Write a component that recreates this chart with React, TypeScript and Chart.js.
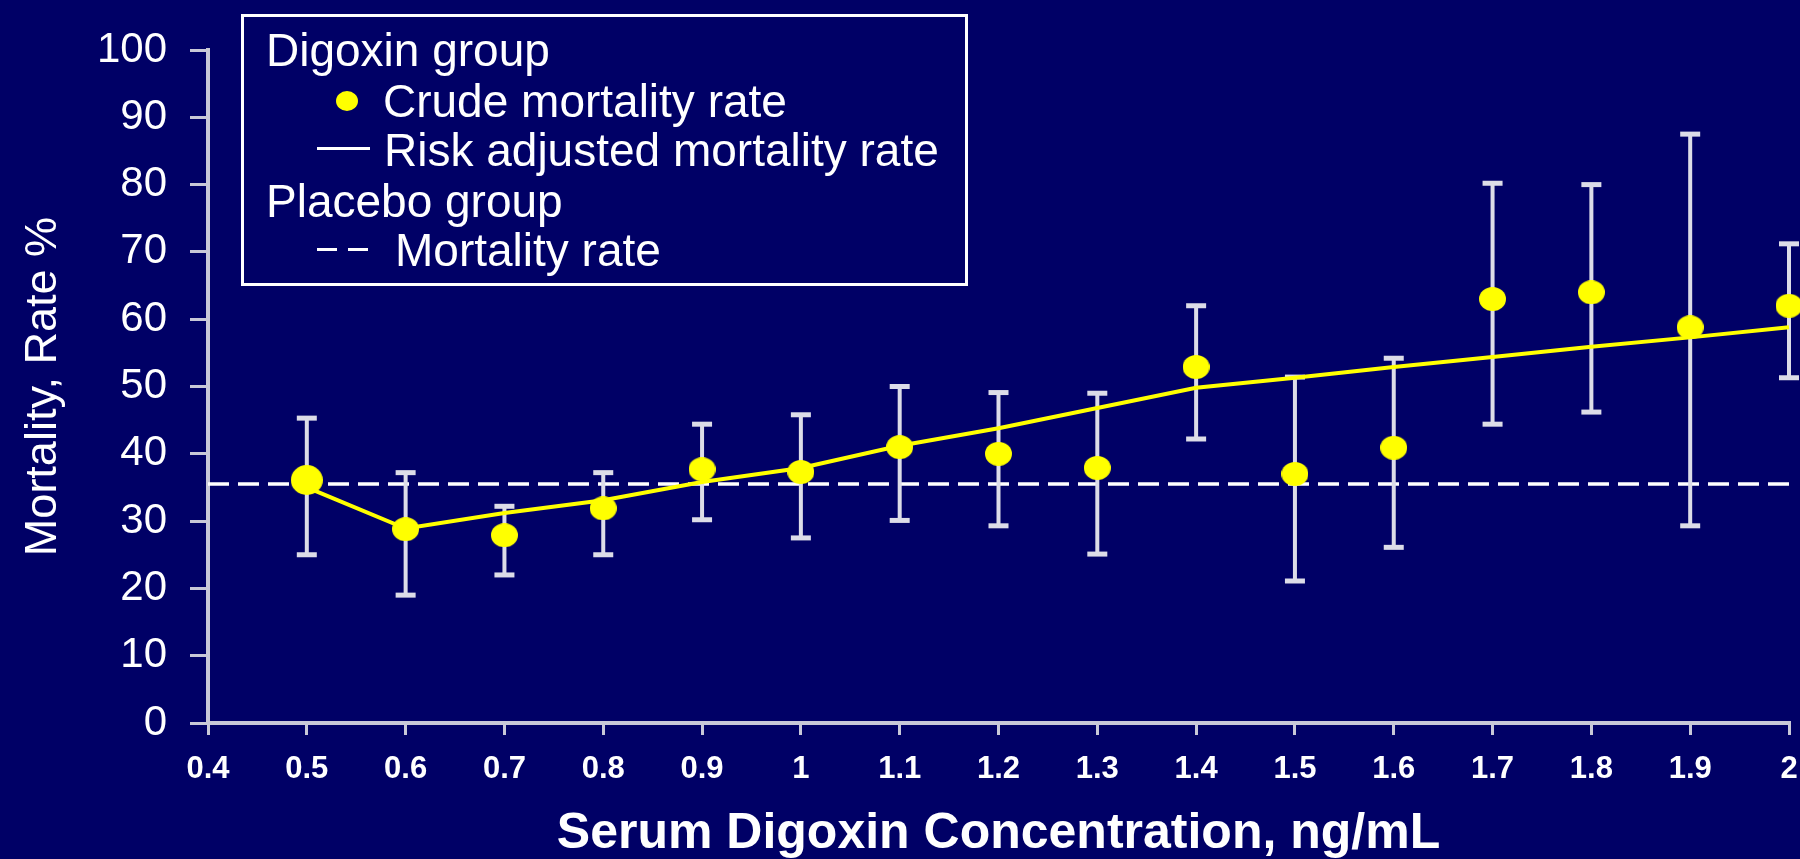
import React, { useEffect, useRef } from "react";
import { Chart, registerables } from "chart.js";

Chart.register(...registerables);

// ---- Data ----
const concentrations = [0.5, 0.6, 0.7, 0.8, 0.9, 1.0, 1.1, 1.2, 1.3, 1.4, 1.5, 1.6, 1.7, 1.8, 1.9, 2.0];
const crudeRates = [36.1, 28.8, 27.9, 31.9, 37.7, 37.3, 41.0, 40.0, 37.9, 52.9, 37.0, 40.9, 63.0, 64.0, 58.8, 62.0];
const ciLower = [25.0, 19.0, 22.0, 25.0, 30.2, 27.5, 30.1, 29.3, 25.1, 42.2, 21.1, 26.1, 44.4, 46.2, 29.3, 51.3];
const ciUpper = [45.3, 37.2, 32.2, 37.2, 44.4, 45.8, 50.0, 49.1, 49.0, 62.0, 51.4, 54.2, 80.2, 80.0, 87.5, 71.2];
const riskAdjusted = [35.0, 28.9, 31.2, 33.1, 35.8, 37.9, 41.2, 43.8, 46.8, 49.8, 51.3, 52.9, 54.4, 55.9, 57.3, 58.8];
const placeboRate = 35.5;
const xMin = 0.4;
const xMax = 2.0;
const xStep = 0.1;
const yMin = 0;
const yMax = 100;
const yStep = 10;

const legendRows = [
  { text: "Digoxin group", marker: "none" },
  { text: "Crude mortality rate", marker: "dot" },
  { text: "Risk adjusted mortality rate", marker: "line" },
  { text: "Placebo group", marker: "none" },
  { text: "Mortality rate", marker: "dash" },
];

const BG = "#000066";
const AXIS = "#c8c8d8";
const BAR = "#dcdce8";
const YELLOW = "#ffff00";
const FONT = '"Liberation Sans", Arial, sans-serif';

function makeEllipse(w: number, h: number, color: string) {
  const c = document.createElement("canvas");
  c.width = w;
  c.height = h;
  const g = c.getContext("2d")!;
  g.fillStyle = color;
  g.beginPath();
  g.ellipse(w / 2, h / 2, w / 2, h / 2, 0, 0, Math.PI * 2);
  g.fill();
  return c;
}

export default function App() {
  const canvasRef = useRef<HTMLCanvasElement | null>(null);

  useEffect(() => {
    const canvas = canvasRef.current;
    if (!canvas) return;
    const dot = makeEllipse(27, 24, YELLOW);
    const bigDot = makeEllipse(32, 30, YELLOW);

    const errorData: { x: number; y: number | null }[] = [];
    concentrations.forEach((x, i) => {
      errorData.push({ x, y: ciLower[i] });
      errorData.push({ x, y: ciUpper[i] });
      errorData.push({ x, y: null });
    });

    const chart = new Chart(canvas, {
      type: "scatter",
      data: {
        datasets: [
          {
            label: "Crude mortality rate",
            data: concentrations.map((x, i) => ({ x, y: crudeRates[i] })),
            showLine: false,
            clip: false,
            pointStyle: (ctx: any) => (ctx.dataIndex === 0 ? bigDot : dot),
            backgroundColor: YELLOW,
            borderColor: YELLOW,
          },
          {
            label: "Risk adjusted mortality rate",
            data: concentrations.map((x, i) => ({ x, y: riskAdjusted[i] })),
            showLine: true,
            clip: false,
            borderColor: YELLOW,
            borderWidth: 4,
            pointRadius: 0,
            fill: false,
          },
          {
            label: "CI",
            data: errorData as any,
            showLine: true,
            spanGaps: false,
            clip: false,
            borderColor: BAR,
            borderWidth: 4,
            pointStyle: "line",
            pointRadius: 10,
            pointHoverRadius: 10,
            pointBorderColor: BAR,
            pointBorderWidth: 5,
            fill: false,
          },
          {
            label: "Placebo mortality rate",
            data: [
              { x: xMin, y: placeboRate },
              { x: xMax, y: placeboRate },
            ],
            showLine: true,
            borderColor: "#ffffff",
            borderWidth: 3.5,
            borderDash: [21, 9],
            pointRadius: 0,
            fill: false,
          },
        ],
      },
      options: {
        responsive: false,
        maintainAspectRatio: false,
        animation: false,
        events: [],
        layout: { autoPadding: false, padding: { top: 50, right: 11, left: 0, bottom: 0 } },
        plugins: { legend: { display: false }, tooltip: { enabled: false } },
        scales: {
          x: {
            type: "linear",
            min: xMin,
            max: xMax,
            afterFit: (s: any) => {
              s.height = 136;
            },
            ticks: {
              stepSize: xStep,
              autoSkip: false,
              maxRotation: 0,
              color: "#ffffff",
              padding: 0,
              font: { family: FONT, size: 31, weight: "bold", lineHeight: 2.2 },
              callback: (v: any) => String(Number(Number(v).toFixed(1))),
            },
            grid: {
              display: true,
              drawOnChartArea: false,
              drawTicks: true,
              tickLength: 12,
              color: AXIS,
              lineWidth: 3,
            },
            border: { display: true, color: AXIS, width: 4 },
            title: {
              display: true,
              text: "Serum Digoxin Concentration, ng/mL",
              color: "#ffffff",
              font: { family: FONT, size: 50, weight: "bold", lineHeight: 1 },
              padding: 0,
            },
          },
          y: {
            type: "linear",
            min: yMin,
            max: yMax,
            afterFit: (s: any) => {
              s.width = 208;
            },
            ticks: {
              stepSize: yStep,
              color: "#ffffff",
              padding: 23,
              font: { family: FONT, size: 42 },
            },
            grid: {
              display: true,
              drawOnChartArea: false,
              drawTicks: true,
              tickLength: 18,
              color: AXIS,
              lineWidth: 3,
            },
            border: { display: true, color: AXIS, width: 4 },
            title: {
              display: true,
              text: "Mortality, Rate %",
              color: "#ffffff",
              font: { family: FONT, size: 45 },
              padding: { top: 17, bottom: 0 },
            },
          },
        },
      },
    } as any);

    return () => chart.destroy();
  }, []);

  const rowCenters = [50, 101, 150, 201, 250];
  const rowLeft = [266, 383, 384, 266, 395];

  return (
    <div
      style={{
        position: "fixed",
        left: 0,
        top: 0,
        width: 1800,
        height: 859,
        background: BG,
        overflow: "hidden",
        fontFamily: FONT,
      }}
    >
      <canvas ref={canvasRef} width={1800} height={859} style={{ display: "block", width: 1800, height: 859 }} />
      <div
        style={{
          position: "absolute",
          left: 241,
          top: 14,
          width: 727,
          height: 272,
          border: "3px solid #ffffff",
          boxSizing: "border-box",
        }}
      />
      {legendRows.map((r, i) => (
        <React.Fragment key={r.text}>
          <div
            style={{
              position: "absolute",
              left: rowLeft[i],
              top: rowCenters[i] - 25,
              height: 50,
              lineHeight: "50px",
              fontSize: 46,
              color: "#ffffff",
              whiteSpace: "nowrap",
            }}
          >
            {r.text}
          </div>
          {r.marker === "dot" && (
            <div
              style={{
                position: "absolute",
                left: 347 - 11,
                top: rowCenters[i] - 10,
                width: 22,
                height: 20,
                borderRadius: "50%",
                background: YELLOW,
              }}
            />
          )}
          {r.marker === "line" && (
            <div
              style={{
                position: "absolute",
                left: 317,
                top: rowCenters[i] - 3,
                width: 53,
                height: 3,
                background: "#ffffff",
              }}
            />
          )}
          {r.marker === "dash" && (
            <>
              <div style={{ position: "absolute", left: 317, top: rowCenters[i] - 2, width: 20, height: 3, background: "#ffffff" }} />
              <div style={{ position: "absolute", left: 348, top: rowCenters[i] - 2, width: 20, height: 3, background: "#ffffff" }} />
            </>
          )}
        </React.Fragment>
      ))}
    </div>
  );
}
